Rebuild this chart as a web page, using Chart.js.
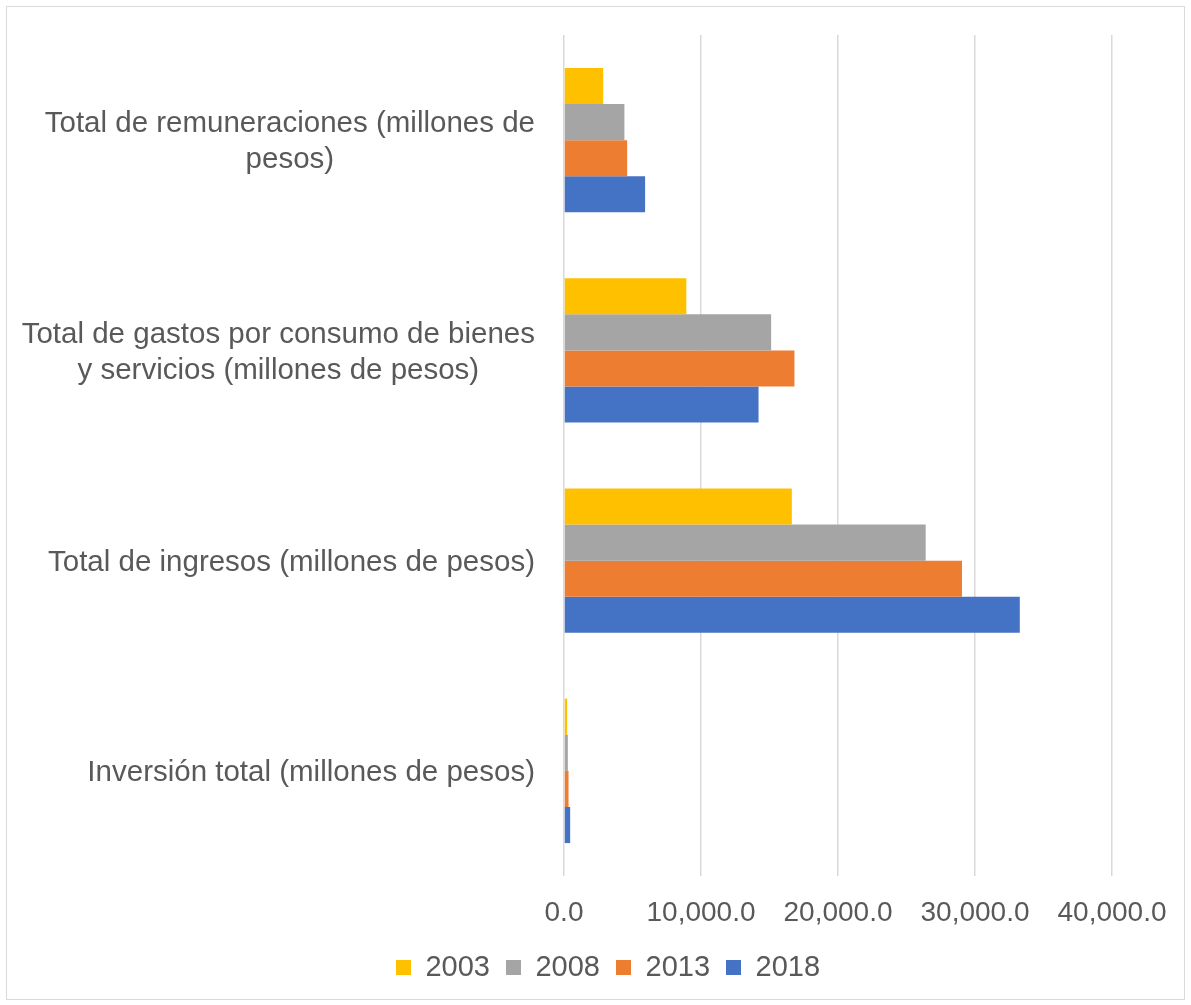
<!DOCTYPE html>
<html>
<head>
<meta charset="utf-8">
<script src="https://cdn.jsdelivr.net/npm/chart.js@4.4.1/dist/chart.umd.min.js"></script>
<style>
  body { margin: 0; background: #fff; }
  #frame {
    position: absolute; left: 6px; top: 6px;
    width: 1179px; height: 994px;
    box-sizing: border-box; border: 1px solid #d9d9d9; background: #fff;
  }
  #wrap { position: absolute; left: 0; top: 0; width: 1177px; height: 992px; }
</style>
</head>
<body>
<div id="frame"><div id="wrap"><canvas id="chart"></canvas></div></div>
<script>
// categories, top to bottom (each one split into its display lines)
var categories = [
  ['Total de remuneraciones (millones de', 'pesos)'],
  ['Total de gastos por consumo de bienes', 'y servicios (millones de pesos)'],
  ['Total de ingresos (millones de pesos)'],
  ['Inversión total (millones de pesos)']
];
var years = ['2003', '2008', '2013', '2018'];

// values in millones de pesos
var values2003 = [2860, 8930, 16630, 230];
var values2008 = [4410, 15120, 26400, 280];
var values2013 = [4610, 16820, 29050, 330];
var values2018 = [5920, 14200, 33270, 450];

var colors = ['#FFC000', '#A5A5A5', '#ED7D31', '#4472C4'];
var xTicks = [0, 10000, 20000, 30000, 40000];

var textColor = '#595959';
var fontFamily = '"Liberation Sans", Arial, sans-serif';
var tickFontSize = 28;
var labelFontSize = 29.5;
var legendFontSize = 29;

//draws the category labels: block right-aligned, lines centered inside it
var catLabelPlugin = {
  id: 'catLabels',
  afterDraw: function(chart) {
    var ctx = chart.ctx;
    var yScale = chart.scales.y;
    var right = chart.chartArea.left - 29;
    ctx.save();
    ctx.font = labelFontSize + 'px ' + fontFamily;
    ctx.fillStyle = textColor;
    ctx.textAlign = 'center';
    ctx.textBaseline = 'middle';
    for (var i = 0; i < categories.length; i++) {
      var lines = categories[i];
      var maxW = 0;
      for (var j = 0; j < lines.length; j++) {
        maxW = Math.max(maxW, ctx.measureText(lines[j]).width);
      }
      var cy = yScale.getPixelForTick(i) + 2;
      for (var k = 0; k < lines.length; k++) {
        ctx.fillText(lines[k], right - maxW / 2, cy + (k - (lines.length - 1) / 2) * 36);
      }
    }
    ctx.restore();
  }
};

var seriesValues = [values2003, values2008, values2013, values2018];
var datasets = [];
for (var s = 0; s < years.length; s++) {
  datasets.push({
    label: years[s],
    data: seriesValues[s],
    backgroundColor: colors[s],
    borderWidth: 0,
    categoryPercentage: 0.687,
    barPercentage: 1.0
  });
}

var ctx = document.getElementById('chart');
var chart = new Chart(ctx, {
  type: 'bar',
  data: {
    labels: categories.map(function(c) { return c.join(' '); }),
    datasets: datasets
  },
  plugins: [catLabelPlugin],
  options: {
    indexAxis: 'y',
    responsive: true,
    maintainAspectRatio: false,
    animation: false,
    layout: { padding: { left: 97, right: 72, top: 28, bottom: 7 } },
    scales: {
      x: {
        min: 0,
        max: 40000,
        afterBuildTicks: function(scale) {
          scale.ticks = xTicks.map(function(v) { return { value: v }; });
        },
        afterFit: function(scale) { scale.height = 61; },
        grid: { color: '#d9d9d9', lineWidth: 1.5, drawTicks: true, tickLength: 17, tickColor: 'rgba(0,0,0,0)' },
        border: { display: false },
        ticks: {
          padding: 3,
          color: textColor,
          font: { size: tickFontSize, family: fontFamily },
          callback: function(v) {
            return Number(v).toLocaleString('en-US', { minimumFractionDigits: 1, maximumFractionDigits: 1 });
          }
        }
      },
      y: {
        afterFit: function(scale) { scale.width = 460; },
        grid: { display: false },
        border: { display: false },
        ticks: { display: false }
      }
    },
    plugins: {
      legend: {
        position: 'bottom',
        labels: {
          boxWidth: 15,
          boxHeight: 15,
          padding: 16,
          color: textColor,
          font: { size: legendFontSize, family: fontFamily }
        }
      },
      tooltip: { enabled: false }
    }
  }
});
</script>
</body>
</html>
